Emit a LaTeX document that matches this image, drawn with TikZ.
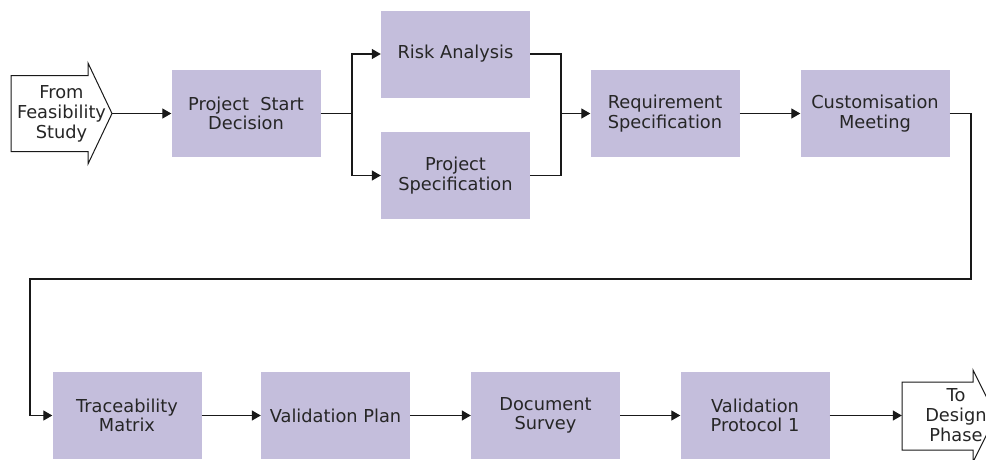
\documentclass[tikz,border=0pt]{standalone}
\usepackage{fontspec}
\setmainfont{DejaVu Sans}
\usetikzlibrary{arrows.meta}
\definecolor{stepfill}{RGB}{196,190,220}
\begin{document}
\begin{tikzpicture}[x=1pt,y=-1pt,
  stepbox/.style={rectangle, fill=stepfill, minimum width=149pt, minimum height=87pt,
    inner sep=0pt, align=center, font=\fontsize{17.8}{19.5}\selectfont, text=black!85},
  phaselabel/.style={rectangle, inner sep=0pt, align=center,
    font=\fontsize{17.8}{20}\selectfont, text=black!85},
  flow/.style={line width=1.3pt, black!90},
  arr/.style={flow, -{Triangle[length=9pt,width=10pt]}},
  outline/.style={line width=1pt, black!90, line join=miter}]
\useasboundingbox (0,0) rectangle (986,459);

% incoming phase arrow
\draw[outline, fill=white] (11,75.5) -- (88,75.5) -- (88,63) -- (112,113.5) -- (88,164) -- (88,151.5) -- (11,151.5) -- cycle;
\node[phaselabel, minimum width=101pt, minimum height=76pt] (from) at (61.5,113.5) {From\\Feasibility\\Study};

% outgoing phase arrow
\draw[outline, fill=white] (902,382) -- (973,382) -- (973,370) -- (996,416) -- (973,462) -- (973,450) -- (902,450) -- cycle;
\node[phaselabel, minimum width=108pt, minimum height=68pt] (to) at (956,415.5) {To\\Design\\Phase};

% top row
\node[stepbox] (psd) at (246,113.5) {Project\ \ Start\\Decision};
\node[stepbox] (ra)  at (455.5,54) {Risk Analysis};
\node[stepbox] (ps)  at (455.5,175.5) {Project\\Specification};
\node[stepbox] (rs)  at (665,113.5) {Requirement\\Specification};
\node[stepbox] (cm)  at (875,113.5) {Customisation\\Meeting};

% bottom row
\node[stepbox] (tm)  at (127,415.5) {Traceability\\Matrix};
\node[stepbox] (vp)  at (335.5,415.5) {Validation Plan};
\node[stepbox] (ds)  at (545.5,415.5) {Document\\Survey};
\node[stepbox] (vp1) at (755,415.5) {Validation\\Protocol 1};

% branch points
\coordinate (split) at (352,113.5);
\coordinate (merge) at (561,113.5);
\coordinate (loopR) at (971,279);
\coordinate (loopL) at (30,279);

% connectors
\draw[arr] (from.east) -- (psd.west);
\draw[flow] (psd.east) -- (split);
\draw[arr] (split) |- (ra.west);
\draw[arr] (split) |- (ps.west);
\draw[flow] (ra.east) -| (merge);
\draw[flow] (ps.east) -| (merge);
\draw[arr] (merge) -- (rs.west);
\draw[arr] (rs.east) -- (cm.west);
\draw[arr] (cm.east) -| (loopR) -- (loopL) |- (tm.west);
\draw[arr] (tm.east) -- (vp.west);
\draw[arr] (vp.east) -- (ds.west);
\draw[arr] (ds.east) -- (vp1.west);
\draw[arr] (vp1.east) -- (to.west);
\end{tikzpicture}
\end{document}
